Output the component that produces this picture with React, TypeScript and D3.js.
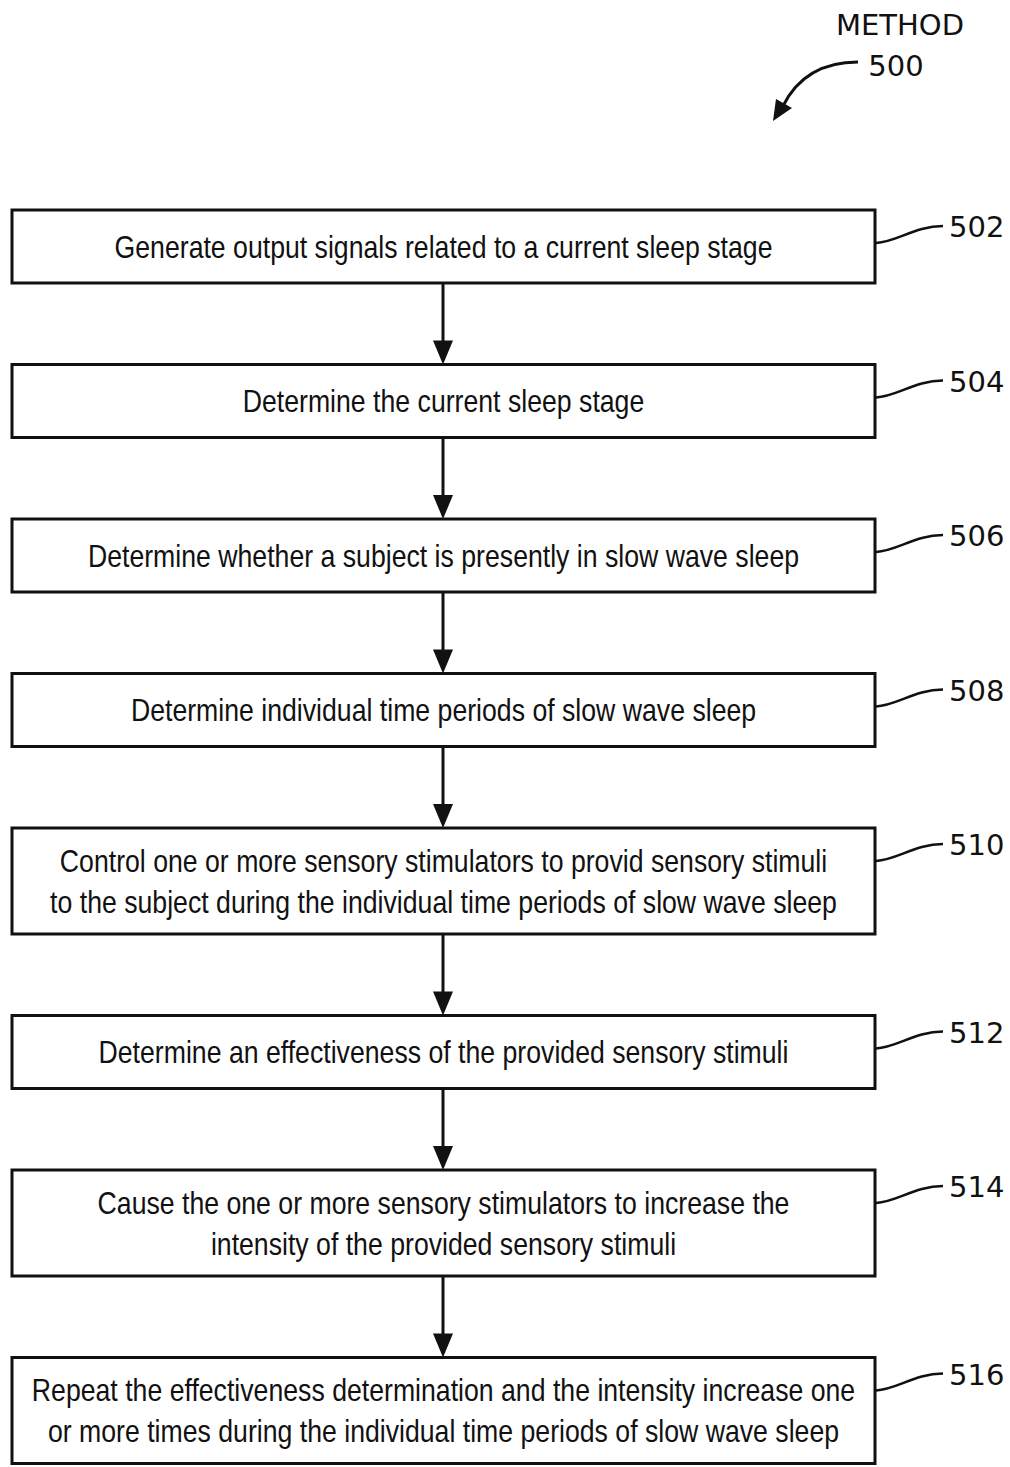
import { useEffect, useRef } from 'react';
import * as d3 from 'd3';

// flowchart content
const stepIds = ['502', '504', '506', '508', '510', '512', '514', '516'];
const stepLines: string[][] = [
  ['Generate output signals related to a current sleep stage'],
  ['Determine the current sleep stage'],
  ['Determine whether a subject is presently in slow wave sleep'],
  ['Determine individual time periods of slow wave sleep'],
  ['Control one or more sensory stimulators to provid sensory stimuli', 'to the subject during the individual time periods of slow wave sleep'],
  ['Determine an effectiveness of the provided sensory stimuli'],
  ['Cause the one or more sensory stimulators to increase the', 'intensity of the provided sensory stimuli'],
  ['Repeat the effectiveness determination and the intensity increase one', 'or more times during the individual time periods of slow wave sleep'],
];
const titleLines = ['METHOD', '500'];

const W = 1010;
const H = 1467;

export default function App() {
  const svgRef = useRef<SVGSVGElement>(null);

  useEffect(() => {
    if (!svgRef.current) return;
    const svg = d3.select(svgRef.current);
    svg.selectAll('*').remove();

    const boxLeft = 12;
    const boxRight = 875;
    const firstTop = 210;
    const gap = 81.5;
    const lineH = 41;
    const singleH = 73;
    const cx = (boxLeft + boxRight) / 2;
    const arrowX = 443;
    const squeeze = 0.86;

    // box layout from line counts
    const boxes: { top: number; bottom: number; id: string; lines: string[] }[] = [];
    let y = firstTop;
    stepIds.forEach((id, i) => {
      const lines = stepLines[i];
      const h = singleH + (lines.length - 1) * 33;
      boxes.push({ top: y, bottom: y + h, id, lines });
      y += h + gap;
    });

    const ink = '#111';

    const g = svg.append('g');

    // boxes
    g.selectAll('rect.step')
      .data(boxes)
      .enter()
      .append('rect')
      .attr('class', 'step')
      .attr('x', boxLeft)
      .attr('y', d => d.top)
      .attr('width', boxRight - boxLeft)
      .attr('height', d => d.bottom - d.top)
      .attr('fill', 'none')
      .attr('stroke', ink)
      .attr('stroke-width', 3);

    // box texts, squeezed horizontally to look like the scan
    boxes.forEach(b => {
      const mid = (b.top + b.bottom) / 2;
      const n = b.lines.length;
      b.lines.forEach((line, k) => {
        const base = mid + (k - (n - 1) / 2) * lineH + 11;
        g.append('g')
          .attr('transform', `translate(${cx},${base}) scale(${squeeze},1)`)
          .append('text')
          .attr('text-anchor', 'middle')
          .attr('font-family', '"Liberation Sans", Arial, sans-serif')
          .attr('font-size', 31)
          .attr('fill', ink)
          .text(line);
      });

      // leader squiggle + reference number
      const y0 = b.top + 33;
      const y1 = b.top + 16;
      const p = d3.path();
      p.moveTo(boxRight + 1, y0);
      p.bezierCurveTo(boxRight + 22, y0 - 1, boxRight + 40, y1, boxRight + 68, y1);
      g.append('path')
        .attr('d', p.toString())
        .attr('fill', 'none')
        .attr('stroke', ink)
        .attr('stroke-width', 2.5);
      g.append('text')
        .attr('x', boxRight + 74)
        .attr('y', y1 + 11)
        .attr('font-family', '"DejaVu Sans", Verdana, sans-serif')
        .attr('font-size', 29)
        .attr('fill', ink)
        .text(b.id);
    });

    // connecting arrows
    d3.pairs(boxes).forEach(([a, b]) => {
      const headLen = 24;
      g.append('line')
        .attr('x1', arrowX)
        .attr('x2', arrowX)
        .attr('y1', a.bottom)
        .attr('y2', b.top - headLen + 2)
        .attr('stroke', ink)
        .attr('stroke-width', 3);
      g.append('path')
        .attr('d', `M${arrowX - 10},${b.top - headLen}L${arrowX + 10},${b.top - headLen}L${arrowX},${b.top}Z`)
        .attr('fill', ink);
    });

    // title
    g.append('text')
      .attr('x', 900)
      .attr('y', 35)
      .attr('text-anchor', 'middle')
      .attr('font-family', '"DejaVu Sans", Verdana, sans-serif')
      .attr('font-size', 29)
      .attr('fill', ink)
      .text(titleLines[0]);
    g.append('text')
      .attr('x', 896)
      .attr('y', 76)
      .attr('text-anchor', 'middle')
      .attr('font-family', '"DejaVu Sans", Verdana, sans-serif')
      .attr('font-size', 29)
      .attr('fill', ink)
      .text(titleLines[1]);

    // curved pointer arrow
    const cp = d3.path();
    cp.moveTo(858, 62);
    cp.quadraticCurveTo(805, 62, 783, 106);
    g.append('path')
      .attr('d', cp.toString())
      .attr('fill', 'none')
      .attr('stroke', ink)
      .attr('stroke-width', 3);
    g.append('path')
      .attr('d', 'M773,121L776,99L792,108Z')
      .attr('fill', ink);
  }, []);

  return (
    <svg
      ref={svgRef}
      width={W}
      height={H}
      viewBox={`0 0 ${W} ${H}`}
      style={{ position: 'absolute', left: 0, top: 0, background: '#fff' }}
    />
  );
}
